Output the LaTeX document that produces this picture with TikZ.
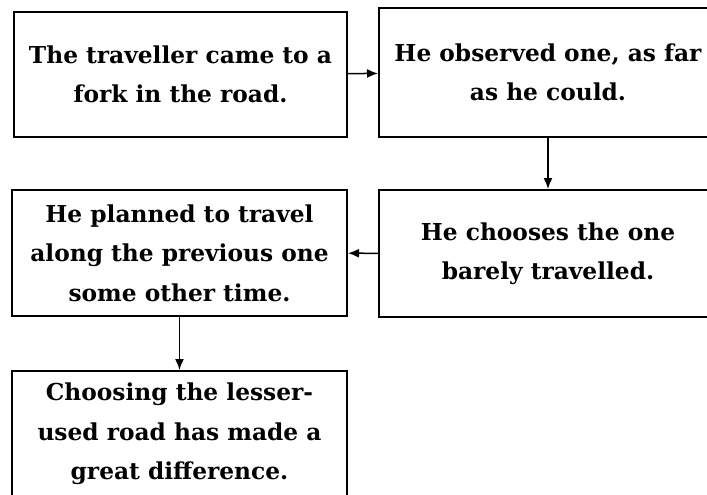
\documentclass[tikz,border=0pt]{standalone}
\usepackage{fontspec}
\setmainfont{DejaVu Serif}
\usetikzlibrary{arrows.meta}
\begin{document}
\begin{tikzpicture}[x=1pt, y=-1pt]
\tikzset{boite/.style={draw, line width=2pt, inner sep=0pt, align=center,
  font=\fontsize{23.3}{39.5}\selectfont\bfseries},
  fleche/.style={-{Latex[length=11pt, width=9pt]}, line width=1.5pt}}
\useasboundingbox (0, 0) rectangle (707, 495);
\clip (0, 0) rectangle (707, 495);
\node[boite, minimum width=333pt, minimum height=125pt] (B1) at (180.5, 74.5) {The traveller came to a\\fork in the road.};
\node[boite, minimum width=338pt, minimum height=129pt] (B2) at (548, 72.5) {He observed one, as far\\as he could.};
\node[boite, minimum width=338pt, minimum height=127pt] (B3) at (548, 253.5) {He chooses the one\\barely travelled.};
\node[boite, minimum width=335pt, minimum height=126pt] (B4) at (179.5, 253) {He planned to travel\\along the previous one\\some other time.};
\node[boite, minimum width=335pt, minimum height=126pt] (B5) at (179.5, 434) {Choosing the lesser-\\used road has made a\\great difference.};
\draw[fleche] (B1) -- (B2);
\draw[fleche] (B2) -- (B3);
\draw[fleche] (B3) -- (B4);
\draw[fleche] (B4) -- (B5);
\end{tikzpicture}
\end{document}
